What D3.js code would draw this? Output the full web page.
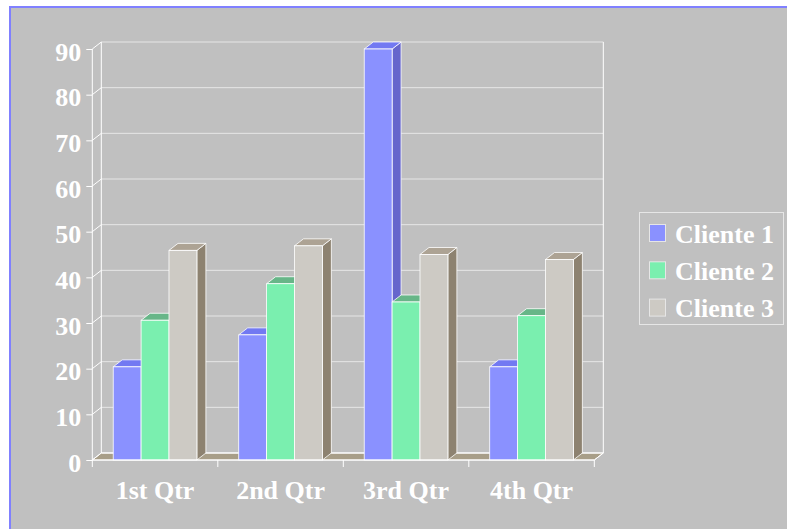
<!DOCTYPE html>
<html>
<head>
<meta charset="utf-8">
<script src="https://cdn.jsdelivr.net/npm/d3@7"></script>
<style>
  html, body { margin: 0; padding: 0; background: #ffffff; }
  svg { display: block; }
  text { font-family: "Liberation Serif", "Times New Roman", serif; font-weight: bold; fill: #ffffff; }
</style>
</head>
<body>
<svg id="chart" width="787" height="529"></svg>
<script>
const categories = ["1st Qtr", "2nd Qtr", "3rd Qtr", "4th Qtr"];
const seriesNames = ["Cliente 1", "Cliente 2", "Cliente 3"];
const cliente1 = [20.4, 27.4, 90, 20.4];
const cliente2 = [30.6, 38.6, 34.6, 31.6];
const cliente3 = [45.9, 46.9, 45, 43.9];
const yTicks = [0, 10, 20, 30, 40, 50, 60, 70, 80, 90];

const seriesValues = [cliente1, cliente2, cliente3];
const faceColors = [
  { front: "#8A91FF", top: "#7279F2", side: "#6666CC" },
  { front: "#7AEFAF", top: "#67B688", side: "#5EA37A" },
  { front: "#CDCAC4", top: "#ADA394", side: "#8D8270" }
];

const svg = d3.select("#chart");
const W = 787, H = 529;
const DX = 9, DY = -7;

// background + border
svg.append("rect").attr("x", 10).attr("y", 7).attr("width", W + 20).attr("height", H + 20)
  .attr("fill", "#C0C0C0").attr("stroke", "#8080FF").attr("stroke-width", 2);

const x0 = d3.scaleBand().domain(categories).range([92.3, 594.3]).padding(0);
const x1 = d3.scaleBand().domain(seriesNames).range([0, x0.bandwidth()]).paddingInner(0).paddingOuter(0.75);
const y = d3.scaleLinear().domain([0, 90]).range([460, 49]);

const xL = x0.range()[0], xR = x0.range()[1];
const y0 = y(0), yTop = y(90);

// floor
svg.append("path")
  .attr("d", `M${xL},${y0} L${xL + DX},${y0 + DY} L${xR + DX},${y0 + DY} L${xR},${y0} Z`)
  .attr("fill", "#A89E88").attr("stroke", "#ffffff").attr("stroke-width", 1);

// back wall gridlines
const grid = svg.append("g");
yTicks.forEach(t => {
  grid.append("line")
    .attr("x1", xL + DX).attr("x2", xR + DX)
    .attr("y1", y(t) + DY).attr("y2", y(t) + DY)
    .attr("stroke", t === 0 ? "#ffffff" : "#E6E6E6").attr("stroke-width", 1);
  // side wall diagonals
  grid.append("line")
    .attr("x1", xL).attr("y1", y(t))
    .attr("x2", xL + DX).attr("y2", y(t) + DY)
    .attr("stroke", "#ffffff").attr("stroke-width", 1);
});
// wall edges
grid.append("line").attr("x1", xL + DX).attr("x2", xL + DX).attr("y1", yTop + DY).attr("y2", y0 + DY)
  .attr("stroke", "#ffffff");
grid.append("line").attr("x1", xR + DX).attr("x2", xR + DX).attr("y1", yTop + DY).attr("y2", y0 + DY)
  .attr("stroke", "#ffffff");
grid.append("line").attr("x1", xR).attr("y1", y0).attr("x2", xR + DX).attr("y2", y0 + DY)
  .attr("stroke", "#ffffff");

// bars
const bars = svg.append("g");
categories.forEach((c, ci) => {
  seriesNames.forEach((s, si) => {
    const v = seriesValues[si][ci];
    const bx = x0(c) + x1(s);
    const bw = x1.bandwidth();
    const yt = y(v);
    const col = faceColors[si];
    // side
    bars.append("path")
      .attr("d", `M${bx + bw},${yt} L${bx + bw + DX},${yt + DY} L${bx + bw + DX},${y0 + DY} L${bx + bw},${y0} Z`)
      .attr("fill", col.side).attr("stroke", "#ffffff").attr("stroke-width", 0.8).attr("stroke-linejoin", "round");
    // top
    bars.append("path")
      .attr("d", `M${bx},${yt} L${bx + DX},${yt + DY} L${bx + bw + DX},${yt + DY} L${bx + bw},${yt} Z`)
      .attr("fill", col.top).attr("stroke", "#ffffff").attr("stroke-width", 0.8).attr("stroke-linejoin", "round");
    // front
    bars.append("rect")
      .attr("x", bx).attr("y", yt).attr("width", bw).attr("height", y0 - yt)
      .attr("fill", col.front).attr("stroke", "#ffffff").attr("stroke-width", 0.8);
  });
});

// front axes
const axisG = svg.append("g");
axisG.append("line").attr("x1", xL).attr("x2", xL).attr("y1", yTop).attr("y2", y0).attr("stroke", "#ffffff");
axisG.append("line").attr("x1", xL).attr("x2", xR).attr("y1", y0).attr("y2", y0).attr("stroke", "#ffffff");

const yAxis = d3.axisLeft(y).tickValues(yTicks).tickSize(6).tickPadding(5).tickFormat(d3.format("d"));
const yg = svg.append("g").attr("transform", `translate(${xL},0)`).call(yAxis);
yg.select(".domain").remove();
yg.selectAll(".tick line").attr("stroke", "#ffffff");
yg.selectAll(".tick text").attr("fill", "#ffffff").attr("dy", null).attr("dominant-baseline", null)
  .attr("y", 11).style("font-size", "26px").style("font-family", "'Liberation Serif', serif").style("font-weight", "bold");

// category ticks at boundaries
const boundaries = categories.map(c => x0(c)).concat([xR]);
boundaries.forEach(bx => {
  axisG.append("line").attr("x1", bx).attr("x2", bx).attr("y1", y0).attr("y2", y0 + 7).attr("stroke", "#ffffff");
});
categories.forEach(c => {
  svg.append("text")
    .attr("x", x0(c) + x0.bandwidth() / 2).attr("y", 499)
    .attr("text-anchor", "middle").style("font-size", "26px")
    .text(c);
});

// legend
const lg = svg.append("g");
lg.append("rect").attr("x", 639.5).attr("y", 212.5).attr("width", 144).attr("height", 112)
  .attr("fill", "none").attr("stroke", "#E6E6E6").attr("stroke-width", 1);
seriesNames.forEach((s, i) => {
  const ry = 224.5 + i * 37.3;
  lg.append("rect").attr("x", 649.5).attr("y", ry).attr("width", 16).attr("height", 17)
    .attr("fill", faceColors[i].front).attr("stroke", "#E6E6E6").attr("stroke-width", 1);
  lg.append("text").attr("x", 675).attr("y", ry + 18).style("font-size", "26px").text(s);
});
</script>
</body>
</html>
